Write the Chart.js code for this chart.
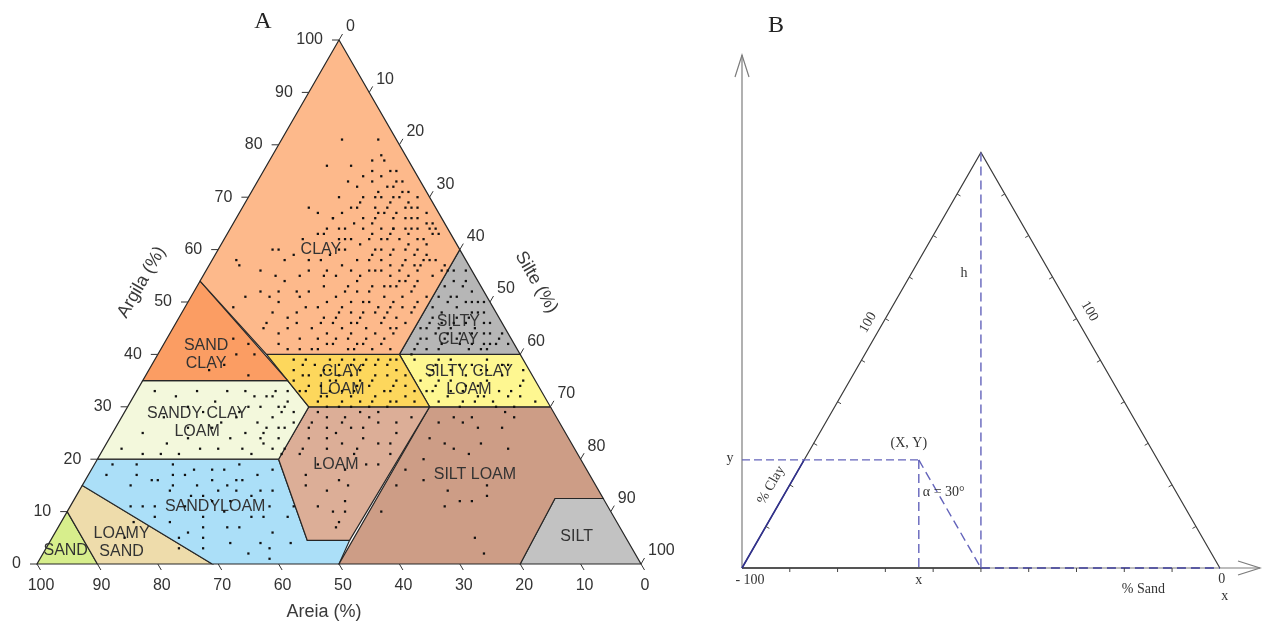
<!DOCTYPE html>
<html lang="pt">
<head>
    <meta charset="UTF-8">
    <title>Triângulo textural</title>
    <script src="https://cdn.jsdelivr.net/npm/chart.js"></script>
    <style>
     body { margin: 0; background: #fff; }
     .wrap { position: relative; width: 1263px; height: 622px; }
     #chart-a { position: absolute; left: 0; top: 0; }
     #chart-b { position: absolute; left: 700px; top: 0; }
    </style>
</head>
<body>
<div class="wrap">
    <canvas id="chart-a" width="700" height="622"></canvas>
    <canvas id="chart-b" width="563" height="622"></canvas>
</div>

<script>
    // ---------- A: triângulo textural ----------
    // valores marcados nos três lados (%)
    const tickValues = [0, 10, 20, 30, 40, 50, 60, 70, 80, 90, 100];

    // classes texturais, vértices [areia, argila] em %
    const clayPoly = [[0, 100], [0, 60], [20, 40], [42, 40], [46, 54]];
    const sandClayPoly = [[46, 54], [41, 35], [65, 35]];
    const siltyClayPoly = [[0, 60], [0, 40], [20, 40]];
    const clayLoamPoly = [[42, 40], [20, 40], [20, 30], [40, 30], [41, 35]];
    const siltyClayLoamPoly = [[20, 40], [0, 40], [0, 30], [20, 30]];
    const sandyClayLoamPoly = [[65, 35], [41, 35], [40, 30], [50, 20], [80, 20]];
    const loamPoly = [[40, 30], [20, 30], [46, 4.5], [53, 4.5], [50, 20]];
    const siltLoamPoly = [[20, 30], [0, 30], [0, 12.5], [8, 12.5], [20, 0], [50, 0]];
    const siltPoly = [[8, 12.5], [0, 12.5], [0, 0], [20, 0]];
    const sandyLoamPoly = [[80, 20], [50, 20], [53, 4.5], [46, 4.5], [50, 0], [71, 0], [85, 15]];
    const loamySandPoly = [[85, 15], [71, 0], [90, 0], [90, 10]];
    const sandPoly = [[90, 10], [90, 0], [100, 0]];

    // nomes das classes e onde ficam (em % areia / argila)
    const classLabels = [
        { text: ['CLAY'], areia: 23, argila: 60 },
        { text: ['SAND', 'CLAY'], areia: 52, argila: 40 },
        { text: ['SILTY', 'CLAY'], areia: 8, argila: 44.5 },
        { text: ['CLAY', 'LOAM'], areia: 32, argila: 35 },
        { text: ['SILTY CLAY', 'LOAM'], areia: 11, argila: 35 },
        { text: ['SANDY CLAY', 'LOAM'], areia: 60, argila: 27 },
        { text: ['LOAM'], areia: 41, argila: 19 },
        { text: ['SANDYLOAM'], areia: 65, argila: 11 },
        { text: ['SILT LOAM'], areia: 19, argila: 17 },
        { text: ['LOAMY', 'SAND'], areia: 84, argila: 4 },
        { text: ['SAND'], areia: 94, argila: 2.5 },
        { text: ['SILT'], areia: 8, argila: 5.3 }
    ];

    // amostras [areia, argila] (%)
    const samplesClay = [
        [9,81],[3,81],[4,78],[4,77],[14,76],[10,76],[7,75],[4,75],[3,75],[4,73],[9,74],[8,73],[3,73],[11,72],[8,71],[6,72],[4,71],[3,71],
        [15,70],[11,70],[9,70],[8,70],[6,70],[5,70],[4,69],[2,70],[21,68],[14,68],[10,68],[5,68],[4,68],[20,67],[16,67],[10,67],[9,67],[7,67],
        [6,66],[4,66],[18,66],[3,65],[2,65],[20,64],[18,64],[14,64],[12,65],[11,64],[9,64],[7,64],[6,64],[5,64],[3,64],[2,64],
        [22,63],[21,63],[18,62],[17,62],[13,63],[12,62],[10,63],[9,62],[7,63],[5,62],[3,63],[2,63],
        [31,60],[30,58],[19,60],[18,58],[15,59],[14,58],[12,59],[11,57],[8,59],[7,58],[5,58],[4,57],[38,58],[26,58],
        [35,56],[33,55],[29,55],[24,56],[23,55],[20,56],[19,55],[16,56],[14,55],[12,56],[11,55],[9,56],[7,55],[5,56],
        [38,57],[40,51],[37,52],[36,51],[31,52],[31,51],[26,53],[25,51],[22,53],[21,52],[18,53],[17,51],[15,53],[14,51],[12,52],[10,51],
        [43,49],[37,48],[33,48],[29,49],[26,48],[23,50],[22,48],[19,49],[18,48],[15,49],[14,48],
        [39,46],[35,47],[32,45],[30,46],[27,45],[25,46],[23,45],[20,46],[19,45],[16,46],
        [39,42],[32,43],[30,42],[27,43],[27,41],[25,42],[22,42],[21,41],
        [16,50],[13,54],[11,53],[9,57],[7,60],[6,62],[5,61],[17,47],[19,44],[21,43],[24,41],[26,44],[28,41],[30,44],[33,41],[35,43],[38,41],
        [20,50],[24,48],[28,46],[15,56],[13,60],[11,62],[9,64],[20,60],[25,62],[30,60],[35,50],[40,45],[18,66],
        [6,74],[5,72],[7,69],[12,69],[13,66],[15,65],[8,66],[11,66],[13,68],[17,64],[16,61],[19,62],[14,62],[11,60],[8,61],[6,59],
        [10,58],[13,57],[16,58],[17,56],[21,57],[22,59],[24,58],[27,56],[28,59],[10,54],[8,57],[12,54],[14,53],[16,53],[19,52],[20,54],
        [23,52],[25,55],[27,50],[29,52],[32,54],[34,52],[17,49],[20,48],[21,50],[24,46],[25,49],[27,47],[29,47],[31,49],[34,46],[36,45],
        [38,44],[22,44],[24,43],[29,43],[31,42],[34,41],[36,41],[26,42],[19,47],[13,49],[12,50],[18,45],[23,47],[6,58],[9,60],[14,60],
        [3,68],[5,66],[2,67],[8,68],[12,73],[6,77]
    ];
    const samplesSiltyClay = [
        [4,54],[6,53],[3,53],[10,49],[9,48],[6,49],[4,48],[2,50],[3,46],[3,44],[12,42],[9,42],[8,41],[5,42],[3,42],[1,42],
        [12,46],[14,45],[16,42],[15,43],[18,40],[15,41],[12,44],[10,46],[8,44],[6,46],[4,44],[2,46],[13,41],[11,43],[7,42],[5,41],
        [1,44],[7,50],[5,51],[3,50],[2,54],[1,56],[11,47],[8,51],[4,56],[6,44],[9,45],
        [7,47],[5,47],[4,50],[2,48],[6,51],[3,56],[2,52],[10,44],[8,46],[11,45],[14,43],[17,41],[13,45],[9,43],[4,42],[6,41],
        [2,43],[1,50],[3,48],[5,45]
    ];
    const samplesSandClay = [[44,42],[44,40],[47,40],[47,36],[50,38],[46,43],[53,37]];
    const samplesClayLoam = [
        [38,39],[35,38],[32,39],[29,38],[26,39],[23,38],[21,39],[37,36],[34,35],[30,36],[27,35],[24,36],[22,34],[39,33],[36,32],
        [33,33],[31,31],[28,32],[25,31],[22,31],[38,31],[35,30],[30,34],[26,33],[34,37],[28,37],[24,34],[32,36],[36,34],[40,35],
        [21,36],[29,31],[33,30],[37,38],[25,38],[31,33],[27,30],[23,32],[35,36],[39,37],[30,39],[26,36],[21,33],[34,31],[38,34],
        [36,39],[33,37],[31,38],[28,39],[24,39],[22,37],[27,38],[29,35],[33,35],[38,36],[35,33],[32,32],[30,30],[25,33],[23,35],
        [37,32],[28,34],[26,31],[40,33],[22,39]
    ];
    const samplesSiltyClayLoam = [
        [18,39],[15,38],[12,39],[9,38],[6,39],[3,38],[17,36],[14,35],[11,36],[8,35],[5,36],[2,35],[19,33],[16,32],[13,33],
        [10,32],[7,33],[4,32],[18,31],[15,30],[12,31],[9,31],[6,30],[16,37],[10,34],[13,37],[19,35],[5,33],[8,37],[17,34],
        [14,39],[11,38],[7,37],[4,38],[1,37],[12,34],[15,33],[3,34],[6,32],[9,30],[14,31],[18,33],[11,32],[2,31],[16,35]
    ];
    const samplesSandyClayLoam = [
        [61,32],[57,33],[52,33],[49,33],[48,32],[45,32],[45,30],[45,29],[43,31],[43,29],[48,30],[47,28],[50,27],[52,29],[56,27],
        [56,24],[53,25],[51,24],[49,26],[48,24],[46,26],[44,27],[48,22],[50,22],[51,23],[54,21],[59,22],[62,22],[66,21],[69,21],
        [70,25],[65,28],[60,30],[58,26],[63,24],[75,22],[64,33],
        [55,31],[50,30],[46,32],[44,33],[42,33],[47,26],[50,25],[53,28],[58,29],[62,26],[67,23],[72,21],[55,22],[44,30],[49,21]
    ];
    const samplesLoam = [
        [39,29],[37,30],[35,28],[32,29],[31,28],[29,29],[42,26],[39,26],[38,25],[35,26],[34,24],[32,23],[45,22],[41,22],[38,23],
        [36,22],[30,23],[27,27],[24,28],[47,17],[42,16],[41,15],[48,11],[46,10],[44,10],[46,8],[48,15],[36,19],[34,19],[31,21],
        [38,28],[41,27],[36,27],[33,26],[30,27],[28,25],[40,24],[43,24],[37,21],[44,19],[46,21],[40,18],[45,14],[43,12],[47,7]
    ];
    const samplesSandyLoam = [
        [72,16],[70,15],[67,17],[66,15],[63,16],[61,15],[59,16],[55,17],[54,14],[71,14],[68,13],[63,14],[60,14],[58,13],[75,11],
        [70,11],[64,10],[60,9],[56,11],[74,8],[63,7],[54,9],[52,11],[72,6],[70,5],[71,3],[61,4],[60,3],[58,6],[61,1],
        [80,17],[74,19],[73,16],[79,11],[77,11],[76,9],[74,5],[78,19],[68,19],[62,18],[57,19],[52,18],[65,12],[56,4],
        [77,15],[75,17],[69,17],[65,18],[60,18],[58,16],[56,14],[66,13],[62,12],[68,9],[65,7],[58,9],[66,4],[64,2],[69,7]
    ];
    const samplesSiltLoam = [
        [20,27],[17,28],[16,27],[14,28],[14,26],[10,26],[7,28],[8,29],[23,24],[21,23],[20,22],[18,21],[15,23],[11,22],
        [26,20],[30,18],[28,16],[25,14],[24,12],[22,12],[18,15],[19,13],[27,11],[25,5],[25,2],[33,15],[38,10]
    ];
    const samplesLoamySand = [[83,5],[80,8],[75,3]];

    // ---------- B: esquema da conversão ----------
    const bTicks = [10, 20, 30, 40, 50, 60, 70, 80, 90];
    const pointSand = 50;   // % areia do ponto (X, Y)
    const pointClay = 26;   // % argila do ponto (X, Y)

    const SQ3 = Math.sqrt(3) / 2;
    const SANS = '"Liberation Sans", Arial, sans-serif';
    const SERIF = '"Liberation Serif", "Times New Roman", serif';

    function ternA(areia, argila) {
        return { x: 100 - areia - argila / 2, y: argila * SQ3 };
    }
    function ternB(areia, argila) {
        return { x: -areia - argila / 2, y: argila * SQ3 };
    }
    function closed(poly, tern) {
        const pts = poly.map(p => tern(p[0], p[1]));
        pts.push(pts[0]);
        return pts;
    }
    function seg(ctx, x1, y1, x2, y2) {
        ctx.beginPath(); ctx.moveTo(x1, y1); ctx.lineTo(x2, y2); ctx.stroke();
    }

    // ---------- chart A ----------
    const regions = [
        [clayPoly, '#fdb98b'],
        [sandClayPoly, '#fb9d63'],
        [siltyClayPoly, '#b6b6b6'],
        [clayLoamPoly, '#fdd75c'],
        [siltyClayLoamPoly, '#fef791'],
        [sandyClayLoamPoly, '#f3f8dc'],
        [loamPoly, '#dcae97'],
        [siltLoamPoly, '#cd9d86'],
        [siltPoly, '#c2c2c2'],
        [sandyLoamPoly, '#abdff8'],
        [loamySandPoly, '#eedcab'],
        [sandPoly, '#d7ee8c']
    ];

    const allSamples = [].concat(samplesClay, samplesSiltyClay, samplesSandClay, samplesClayLoam,
        samplesSiltyClayLoam, samplesSandyClayLoam, samplesLoam, samplesSandyLoam, samplesSiltLoam, samplesLoamySand);

    const datasetsA = [{
        type: 'scatter',
        data: allSamples.map(p => ternA(p[0], p[1])),
        pointStyle: 'rect',
        pointRadius: 1.6,
        backgroundColor: '#111',
        borderWidth: 0,
        order: 0
    }];
    regions.forEach(r => {
        datasetsA.push({
            type: 'line',
            data: closed(r[0], ternA),
            fill: 'shape',
            backgroundColor: r[1],
            borderColor: '#262626',
            borderWidth: 1.2,
            pointRadius: 0,
            tension: 0,
            clip: 4,
            order: 1
        });
    });

    const textureAxes = {
        id: 'textureAxes',
        afterDatasetDraw(chart, args) {
            // nomes das classes: por cima das cores, por baixo dos pontos
            if (args.index !== 1) return;
            const { ctx, scales: { x, y } } = chart;
            ctx.save();
            ctx.fillStyle = '#333';
            ctx.font = '16px ' + SANS;
            ctx.textAlign = 'center';
            ctx.textBaseline = 'middle';
            classLabels.forEach(l => {
                const p = ternA(l.areia, l.argila);
                const px = x.getPixelForValue(p.x), py = y.getPixelForValue(p.y);
                const y0 = py - (l.text.length - 1) * 9;
                l.text.forEach((t, i) => ctx.fillText(t, px, y0 + i * 18));
            });
            ctx.restore();
        },
        afterDraw(chart) {
            const { ctx, scales: { x, y } } = chart;
            const P = (s, c) => { const p = ternA(s, c); return [x.getPixelForValue(p.x), y.getPixelForValue(p.y)]; };
            ctx.save();
            ctx.strokeStyle = '#333';
            ctx.fillStyle = '#333';
            ctx.lineWidth = 1;
            ctx.font = '16px ' + SANS;
            tickValues.forEach(v => {
                // argila (lado esquerdo)
                let [a, b] = P(100 - v, v);
                seg(ctx, a - 7, b, a, b);
                ctx.textAlign = 'right'; ctx.textBaseline = 'middle';
                ctx.fillText(String(v), a - 16, b);
                // silte (lado direito)
                [a, b] = P(0, 100 - v);
                seg(ctx, a, b, a + 3.5, b - 6);
                ctx.textAlign = 'left';
                ctx.fillText(String(v), a + 7, b - 13);
                // areia (base)
                [a, b] = P(v, 0);
                seg(ctx, a, b, a + 3.5, b + 6);
                ctx.textAlign = 'center';
                ctx.fillText(String(v), a + 4, b + 22);
            });

            // títulos dos eixos
            ctx.font = '18px ' + SANS;
            ctx.fillStyle = '#3a3a3a';
            let [a, b] = P(51, 49);
            ctx.save();
            ctx.translate(a - 50 * SQ3, b - 25);
            ctx.rotate(-Math.PI / 3);
            ctx.fillText('Argila (%)', 0, 0);
            ctx.restore();
            [a, b] = P(0, 49);
            ctx.save();
            ctx.translate(a + 50 * SQ3, b - 25);
            ctx.rotate(Math.PI / 3);
            ctx.fillText('Silte (%)', 0, 0);
            ctx.restore();
            [a, b] = P(52.5, 0);
            ctx.fillText('Areia (%)', a, b + 48);

            ctx.font = '24px ' + SERIF;
            ctx.fillStyle = '#222';
            [a, b] = P(0, 100);
            ctx.fillText('A', a - 76, 22);
            ctx.restore();
        }
    };

    new Chart(document.getElementById('chart-a'), {
        type: 'scatter',
        data: { datasets: datasetsA },
        options: {
            responsive: false,
            animation: false,
            events: [],
            layout: { padding: { left: 37, right: 59, top: 40, bottom: 58 } },
            plugins: { legend: { display: false }, tooltip: { enabled: false } },
            scales: {
                x: { type: 'linear', display: false, min: 0, max: 100 },
                y: { type: 'linear', display: false, min: 0, max: 100 * SQ3 }
            }
        },
        plugins: [textureAxes]
    });

    // ---------- chart B ----------
    const leftB = ternB(100, 0), apexB = ternB(0, 100), rightB = ternB(0, 0);
    const pointB = ternB(pointSand, pointClay);
    const clayEdgeB = ternB(100 - pointClay, pointClay);
    const sandFootB = ternB(pointSand, 0);
    const blue = '#6464bb';

    function lineB(data, color, width, dash) {
        return { type: 'line', data: data, borderColor: color, borderWidth: width, borderDash: dash || [],
                 pointRadius: 0, fill: false, tension: 0, clip: false };
    }

    const datasetsB = [
        lineB([{ x: leftB.x, y: pointB.y }, pointB], blue, 1.3, [8, 4]),
        lineB([pointB, { x: pointB.x, y: 0 }], blue, 1.4, [9, 5]),
        lineB([pointB, sandFootB], blue, 1.4, [9, 5]),
        lineB([apexB, { x: apexB.x, y: 0 }], blue, 1.4, [9, 5]),
        lineB([sandFootB, rightB], '#3d3d9a', 1.6, [9, 5]),
        lineB([leftB, clayEdgeB], '#30308e', 1.6),
        lineB([leftB, apexB, rightB], '#3a3a3a', 1.2),
        lineB([leftB, sandFootB], '#555', 1.8)
    ];

    const schemeAxes = {
        id: 'schemeAxes',
        beforeDatasetsDraw(chart) {
            const { ctx, scales: { x, y } } = chart;
            const ox = x.getPixelForValue(leftB.x), oy = y.getPixelForValue(0);
            const top = y.getPixelForValue(y.max), right = x.getPixelForValue(x.max);
            ctx.save();
            ctx.strokeStyle = '#7c7c7c';
            ctx.lineWidth = 1.2;
            seg(ctx, ox, oy, ox, top);
            seg(ctx, ox, oy, right, oy);
            ctx.beginPath();
            ctx.moveTo(ox - 7, top + 22); ctx.lineTo(ox, top); ctx.lineTo(ox + 7, top + 22);
            ctx.moveTo(right - 22, oy - 7); ctx.lineTo(right, oy); ctx.lineTo(right - 22, oy + 7);
            ctx.stroke();
            ctx.restore();
        },
        afterDraw(chart) {
            const { ctx, scales: { x, y } } = chart;
            const P = p => [x.getPixelForValue(p.x), y.getPixelForValue(p.y)];
            ctx.save();
            ctx.strokeStyle = '#444';
            ctx.lineWidth = 1;
            bTicks.forEach(v => {
                let [a, b] = P(ternB(100 - v, v));
                seg(ctx, a, b, a + 4 * SQ3, b + 2);
                [a, b] = P(ternB(0, v));
                seg(ctx, a, b, a - 4 * SQ3, b + 2);
                [a, b] = P(ternB(v, 0));
                seg(ctx, a, b, a, b + 4);
            });

            ctx.fillStyle = '#333';
            ctx.font = '14px ' + SERIF;
            ctx.textAlign = 'center';
            ctx.textBaseline = 'middle';
            const [px, py] = P(pointB);
            const [lx, ly] = P(leftB);
            const [rx, ry] = P(rightB);
            const [hx] = P(apexB);
            ctx.fillText('(X, Y)', px - 10, py - 17);
            ctx.fillText('y', lx - 12, py - 2);
            ctx.fillText('x', px, ly + 12);
            ctx.textAlign = 'left';
            ctx.fillText('\u03b1 = 30\u00b0', px + 4, py + 32);
            ctx.textAlign = 'center';
            ctx.fillText('h', hx - 17, y.getPixelForValue(61.5));
            ctx.fillText('- 100', lx + 8, ly + 12);
            ctx.fillText('0', rx + 2, ry + 11);
            ctx.fillText('x', rx + 5, ry + 28);
            let [a, b] = P(ternB(16, 0));
            ctx.fillText('% Sand', a, b + 21);

            // textos inclinados junto aos lados
            [a, b] = P(ternB(100 - 57.5, 57.5));
            ctx.save();
            ctx.translate(a - 13 * SQ3, b - 6.5);
            ctx.rotate(-Math.PI / 3);
            ctx.fillText('100', 0, 0);
            ctx.restore();
            [a, b] = P(ternB(0, 60));
            ctx.save();
            ctx.translate(a + 15 * SQ3, b - 7.5);
            ctx.rotate(Math.PI / 3);
            ctx.fillText('100', 0, 0);
            ctx.restore();
            [a, b] = P(ternB(100 - 18, 18));
            ctx.save();
            ctx.translate(a - 16 * SQ3, b - 8);
            ctx.rotate(-Math.PI / 3);
            ctx.fillText('% Clay', 0, 0);
            ctx.restore();

            ctx.font = '24px ' + SERIF;
            ctx.fillStyle = '#222';
            ctx.fillText('B', lx + 34, 26);
            ctx.restore();
        }
    };

    new Chart(document.getElementById('chart-b'), {
        type: 'scatter',
        data: { datasets: datasetsB },
        options: {
            responsive: false,
            animation: false,
            events: [],
            layout: { padding: { left: 42, right: 3, top: 55, bottom: 54 } },
            plugins: { legend: { display: false }, tooltip: { enabled: false } },
            scales: {
                x: { type: 'linear', display: false, min: -100, max: 8.4 },
                y: { type: 'linear', display: false, min: 0, max: 106.9 }
            }
        },
        plugins: [schemeAxes]
    });
</script>
</body>
</html>
